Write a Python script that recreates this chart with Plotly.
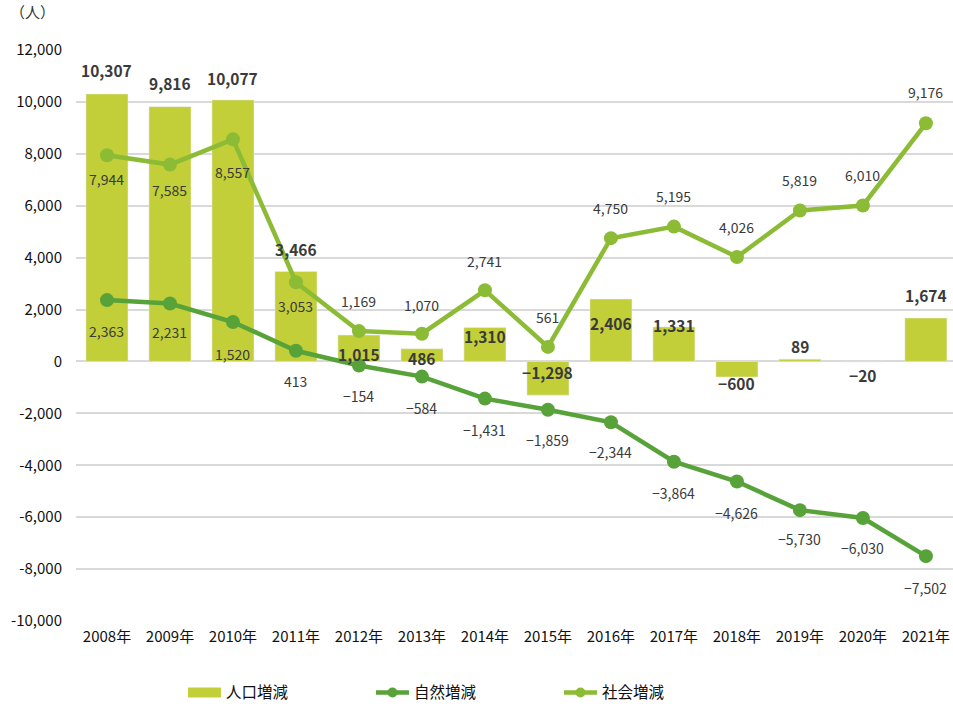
import plotly.graph_objects as go

years = ["2008年", "2009年", "2010年", "2011年", "2012年", "2013年", "2014年",
         "2015年", "2016年", "2017年", "2018年", "2019年", "2020年", "2021年"]
pop_change = [10307, 9816, 10077, 3466, 1015, 486, 1310, -1298, 2406, 1331, -600, 89, -20, 1674]
natural_change = [2363, 2231, 1520, 413, -154, -584, -1431, -1859, -2344, -3864, -4626, -5730, -6030, -7502]
social_change = [7944, 7585, 8557, 3053, 1169, 1070, 2741, 561, 4750, 5195, 4026, 5819, 6010, 9176]
y_ticks = list(range(-10000, 12001, 2000))

# label offsets in pixels (positive = up)
bar_shift = [23.5, 24, 22, 23, -19, -9, -9, 23, -24, 2, -6, 13, -13.5, 23]
social_shift = [-24, -25.5, -33, -24, 30, 29, 29, 29.5, 30, 30.5, 29.5, 30, 30, 31]
natural_shift = [-31, -28, -31.5, -30.5, -30.5, -31, -31, -30, -30, -31, -31, -29, -30, -32]

C_BAR = "#c3cf39"
C_NAT = "#58a23a"
C_SOC = "#8cbb35"
FONT = "Noto Sans CJK JP"
LBL = "#3a3a3a"


def fmt(v):
    return f"{v:,}".replace("-", "−")


fig = go.Figure()
fig.add_trace(go.Bar(x=years, y=pop_change, marker_color=C_BAR, width=0.667,
                     showlegend=False, name="人口増減"))
fig.add_trace(go.Scatter(x=years, y=natural_change, mode="lines+markers", name="自然増減",
                         line=dict(color=C_NAT, width=4.5), marker=dict(size=14, color=C_NAT),
                         showlegend=False))
fig.add_trace(go.Scatter(x=years, y=social_change, mode="lines+markers", name="社会増減",
                         line=dict(color=C_SOC, width=4.5), marker=dict(size=14, color=C_SOC),
                         showlegend=False))

# legend entries
fig.add_trace(go.Scatter(x=[None], y=[None], mode="lines", name="人口増減",
                         line=dict(color=C_BAR, width=10)))
fig.add_trace(go.Scatter(x=[None], y=[None], mode="lines+markers", name="自然増減",
                         line=dict(color=C_NAT, width=4.5), marker=dict(size=10, color=C_NAT)))
fig.add_trace(go.Scatter(x=[None], y=[None], mode="lines+markers", name="社会増減",
                         line=dict(color=C_SOC, width=4.5), marker=dict(size=10, color=C_SOC)))

ann = []
for i, y in enumerate(years):
    ann.append(dict(x=y, y=pop_change[i], text=f"<b>{fmt(pop_change[i])}</b>", showarrow=False,
                    yshift=bar_shift[i], font=dict(size=15.5, color=LBL, family=FONT)))
    ann.append(dict(x=y, y=social_change[i], text=fmt(social_change[i]), showarrow=False,
                    yshift=social_shift[i], font=dict(size=14, color=LBL, family=FONT)))
    ann.append(dict(x=y, y=natural_change[i], text=fmt(natural_change[i]), showarrow=False,
                    yshift=natural_shift[i], font=dict(size=14, color=LBL, family=FONT)))
ann.append(dict(xref="paper", yref="paper", x=-0.022, y=1.067, xanchor="right", yanchor="middle",
                text="（人）", showarrow=False, font=dict(size=15, color="#333", family=FONT)))
fig.update_layout(annotations=ann)

# leader line for the 2010 social label
fig.add_shape(type="line", xref="x", yref="y", x0=years[2], x1=years[2],
              y0=social_change[2] - 80, y1=social_change[2] - 640,
              line=dict(color="#a6a6a6", width=1.5), layer="below")

fig.update_layout(
    width=953, height=707,
    margin=dict(l=76, r=0, t=50, b=86),
    paper_bgcolor="white", plot_bgcolor="white",
    font=dict(family=FONT, color="#222"),
    xaxis=dict(type="category", range=[-0.492, 13.43], showgrid=False, zeroline=False,
               showline=False, ticks="", tickfont=dict(size=15, color="#111"),
               ticklabelstandoff=5),
    yaxis=dict(range=[-10000, 12000], tickvals=y_ticks, ticktext=[f"{v:,}" for v in y_ticks],
               showgrid=True, gridcolor="#d9d9d9", gridwidth=1.5, zeroline=False,
               showline=False, ticks="", tickfont=dict(size=15, color="#111"),
               ticklabelstandoff=13),
    legend=dict(orientation="h", xref="container", yref="container", x=0.192, y=0.02,
                xanchor="left", yanchor="middle", entrywidth=140, entrywidthmode="pixels",
                itemwidth=33, font=dict(size=15.5, color="#111", family=FONT),
                traceorder="normal"),
)

fig.write_html("out.html", config={"displayModeBar": False},
               post_script="document.body.style.margin='0';")
